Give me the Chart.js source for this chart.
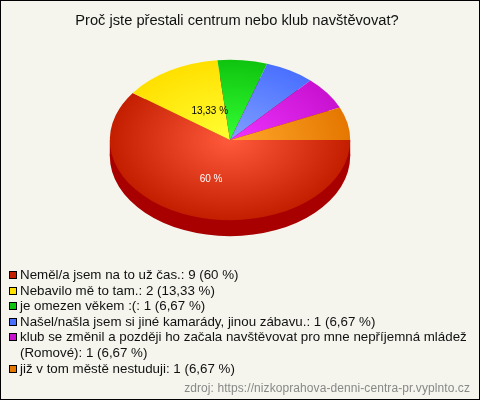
<!DOCTYPE html>
<html>
<head>
<meta charset="utf-8">
<script src="https://cdn.jsdelivr.net/npm/chart.js@4"></script>
<style>
  html, body { margin: 0; padding: 0; background: #f5f5ee; }
  #wrap { position: relative; width: 480px; height: 400px; overflow: hidden; }
  #frame { position: absolute; left: 0; top: 0; width: 478px; height: 398px; border: 1px solid #000; pointer-events: none; }
  #chart { position: absolute; left: 0; top: 0; }
  #legend { position: absolute; left: 8px; top: 267px; width: 466px; margin: 0; padding: 0; list-style: none;
    font: 13.33px "Liberation Sans", Arial, sans-serif; color: #111; }
  #legend li { position: relative; padding-left: 12px; line-height: 15.6px; }
  #legend i { position: absolute; left: 1px; top: 4px; width: 6px; height: 6px; border: 1px solid #000; }
  #source { position: absolute; right: 10px; top: 381px; font: 12px "Liberation Sans", Arial, sans-serif; color: #888; letter-spacing: 0.08px; }
</style>
</head>
<body>
<div id="wrap">
  <canvas id="chart" width="480" height="400"></canvas>
  <ul id="legend"></ul>
  <div id="source">zdroj: https://nizkoprahova-denni-centra-pr.vyplnto.cz</div>
  <div id="frame"></div>
</div>
<script>
const chartTitle = "Proč jste přestali centrum nebo klub navštěvovat?";
const categories = [
  "Neměl/a jsem na to už čas.",
  "Nebavilo mě to tam.",
  "je omezen věkem :(",
  "Našel/našla jsem si jiné kamarády, jinou zábavu.",
  "klub se změnil a později ho začala navštěvovat pro mne nepříjemná mládež (Romové)",
  "již v tom městě nestuduji"
];
const counts = [9, 2, 1, 1, 1, 1];
const percentLabels = ["60 %", "13,33 %", "6,67 %", "6,67 %", "6,67 %", "6,67 %"];
const rimColors = ["#c41e00", "#ffe000", "#0fc40f", "#4a70ff", "#c812d0", "#e57700"];
const centerColors = ["#ff5a3c", "#ffff33", "#33ff33", "#80a0ff", "#ee33ff", "#ffa92a"];
const sideColor = "#a80000";

const squash = 2 / 3;
const depth = 16;
const pieX = 230;
const pieY = 140;

function tilt(ctx, chart) {
  const a = chart.chartArea;
  ctx.translate(pieX, pieY);
  ctx.scale(1, squash);
  ctx.translate(-(a.left + a.right) / 2, -(a.top + a.bottom) / 2);
}

// flatten the pie and put the dark side wall under it
const tiltPlugin = {
  id: "tilt",
  beforeDatasetDraw(chart, args) {
    const ctx = chart.ctx;
    const arcs = args.meta.data;
    ctx.save();
    ctx.translate(0, depth);
    tilt(ctx, chart);
    ctx.fillStyle = sideColor;
    arcs.forEach(function (arc) {
      ctx.beginPath();
      ctx.moveTo(arc.x, arc.y);
      ctx.arc(arc.x, arc.y, arc.outerRadius, arc.startAngle, arc.endAngle);
      ctx.closePath();
      ctx.fill();
    });
    ctx.restore();
    // side wall between the two ellipses
    const first = arcs[0];
    ctx.save();
    ctx.fillStyle = sideColor;
    ctx.fillRect(pieX - first.outerRadius, pieY, first.outerRadius * 2, depth);
    ctx.restore();
    ctx.save();
    tilt(ctx, chart);
  },
  afterDatasetDraw(chart, args) {
    const ctx = chart.ctx;
    ctx.restore();
    // only the big slices get a label, same as the original
    const radiusShare = [0.51, 0.42];
    const shiftX = [0, 5];
    ctx.save();
    ctx.font = '10px "Liberation Sans", Arial, sans-serif';
    ctx.textAlign = "center";
    ctx.textBaseline = "middle";
    args.meta.data.forEach(function (arc, i) {
      if (counts[i] < 2) return;
      const mid = (arc.startAngle + arc.endAngle) / 2;
      const r = arc.outerRadius * radiusShare[i];
      ctx.fillStyle = i === 0 ? "#ffffff" : "#000000";
      ctx.fillText(percentLabels[i], pieX + shiftX[i] + Math.cos(mid) * r, pieY + Math.sin(mid) * r * squash);
    });
    ctx.restore();
  }
};

new Chart(document.getElementById("chart"), {
  type: "pie",
  data: {
    labels: categories,
    datasets: [{
      data: counts,
      borderWidth: 0,
      backgroundColor: function (context) {
        const chart = context.chart;
        const a = chart.chartArea;
        if (!a) return rimColors[context.dataIndex];
        const x = (a.left + a.right) / 2;
        const y = (a.top + a.bottom) / 2;
        const g = chart.ctx.createRadialGradient(x, y, 0, x, y, 120);
        g.addColorStop(0, centerColors[context.dataIndex]);
        g.addColorStop(1, rimColors[context.dataIndex]);
        return g;
      }
    }]
  },
  options: {
    responsive: false,
    animation: false,
    rotation: 90,
    layout: { padding: { left: 0, right: 6, top: 0, bottom: 119 } },
    plugins: {
      legend: { display: false },
      tooltip: { enabled: false },
      title: {
        display: true,
        text: chartTitle,
        color: "#111",
        font: { family: '"Liberation Sans", Arial, sans-serif', size: 14.67, weight: "normal" },
        padding: { top: 12, bottom: 11 }
      }
    }
  },
  plugins: [tiltPlugin]
});

const legend = document.getElementById("legend");
categories.forEach(function (name, i) {
  const li = document.createElement("li");
  const box = document.createElement("i");
  box.style.background = rimColors[i];
  li.appendChild(box);
  li.appendChild(document.createTextNode(name + ": " + counts[i] + " (" + percentLabels[i] + ")"));
  legend.appendChild(li);
});
</script>
</body>
</html>
